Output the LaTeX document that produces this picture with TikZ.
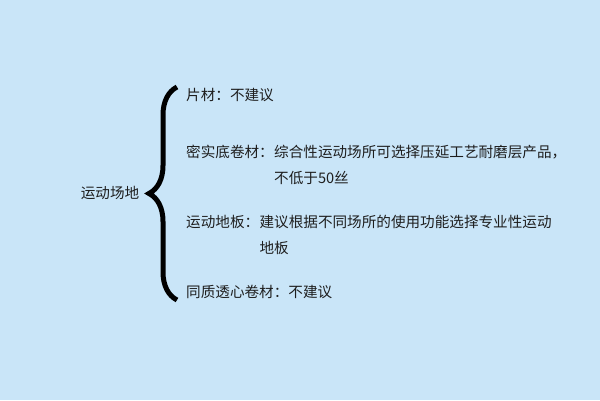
\documentclass[tikz,border=0pt]{standalone}
\usepackage{fontspec}
\newfontfamily\cjk{Noto Sans CJK SC}
\usepackage{tikz}
\usetikzlibrary{positioning,decorations.pathreplacing}
\definecolor{bgblue}{RGB}{201,229,248}
\definecolor{txtgray}{RGB}{30,30,30}

\begin{document}
\begin{tikzpicture}[x=1pt, y=1pt]
  \tikzset{
    txt/.style={font=\cjk\fontsize{14.6}{26}\selectfont, text=txtgray, inner sep=0pt},
    item/.style={txt, anchor=west},
    body/.style={txt, anchor=north west, align=left},
    bigbrace/.style={decorate, decoration={brace, amplitude=28pt}, line width=5pt, black}
  }

  \def\itemx{186}

  % background
  \fill[bgblue] (0,0) rectangle (600,400);
  \useasboundingbox (0,0) rectangle (600,400);

  % root
  \node[txt] (root) at (110,207) {运动场地};

  % brace
  \coordinate (bbot) at (177,100);
  \coordinate (btop) at (177,313);
  \draw[bigbrace] (bbot) -- (btop);

  % items
  \node[item] (pian) at (\itemx,305) {片材：不建议};

  \node[item] (mishi) at (\itemx,248) {密实底卷材：};
  \node[body] (mishibody) at (mishi.north east) {综合性运动场所可选择压延工艺耐磨层产品，\\不低于50丝};

  \node[item] (diban) at (\itemx,178) {运动地板：};
  \node[body] (dibanbody) at (diban.north east) {建议根据不同场所的使用功能选择专业性运动\\地板};

  \node[item] (tongzhi) at (\itemx,108) {同质透心卷材：不建议};
\end{tikzpicture}
\end{document}
